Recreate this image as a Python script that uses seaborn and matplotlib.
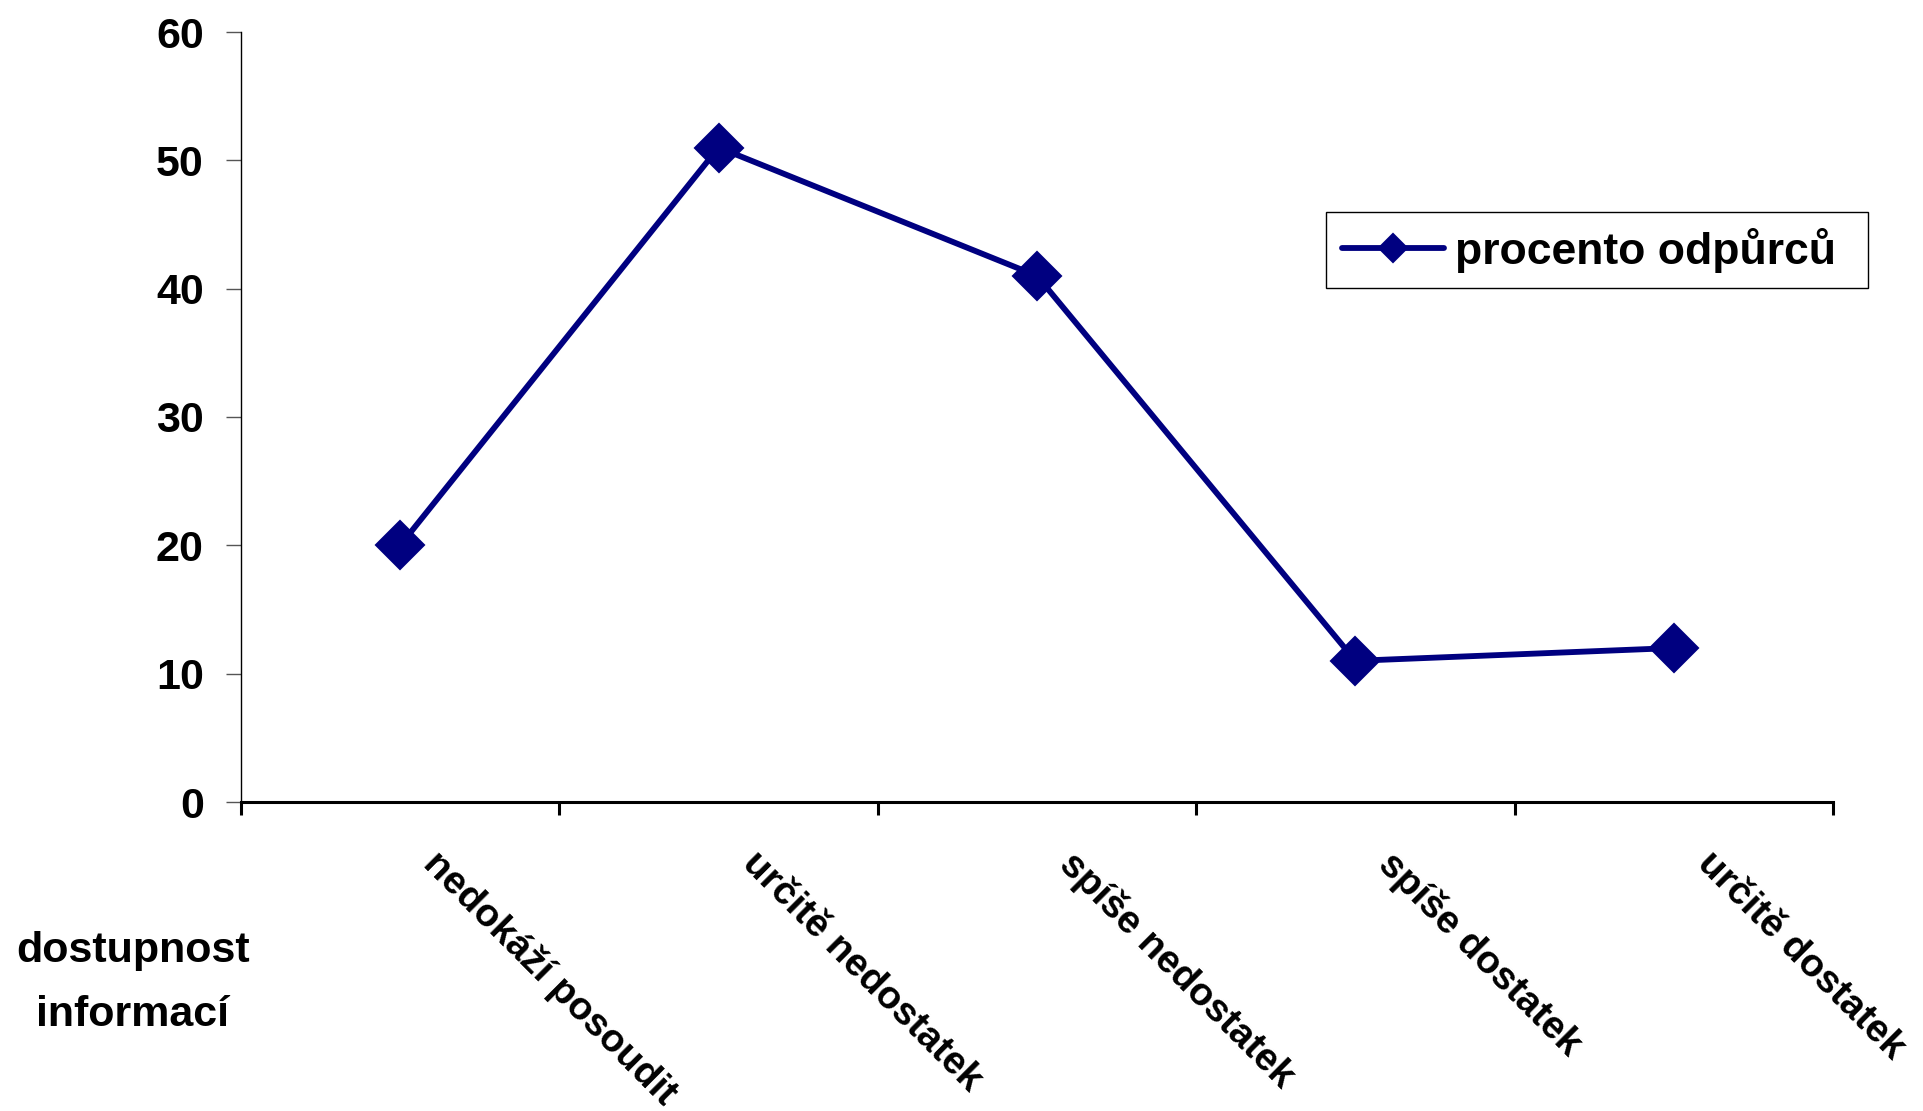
import matplotlib
matplotlib.use('Agg')
import matplotlib.pyplot as plt
import matplotlib.transforms as mtransforms
import seaborn as sns
import pandas as pd
import numpy as np

categories = ['nedokáží posoudit', 'určitě nedostatek', 'spíše nedostatek',
              'spíše dostatek', 'určitě dostatek']
values = [20, 51, 41, 11, 12]
series_name = 'procento odpůrců'
axis_title = 'dostupnost\ninformací'
y_ticks = [0, 10, 20, 30, 40, 50, 60]

sns.set_style('white')
plt.rcParams['font.family'] = ['Liberation Sans', 'DejaVu Sans']
plt.rcParams['font.weight'] = 'bold'
plt.rcParams['text.color'] = 'black'
plt.rcParams['axes.labelcolor'] = 'black'
plt.rcParams['xtick.color'] = 'black'
plt.rcParams['ytick.color'] = 'black'

W, H = 1924, 1111
fig = plt.figure(figsize=(W / 100, H / 100), dpi=100)
ax = fig.add_axes([241 / W, 1 - 802 / H, (1833 - 241) / W, (802 - 32) / H])

df = pd.DataFrame({'kategorie': categories, 'procento': values})
sns.lineplot(data=df, x='kategorie', y='procento', sort=False, color='#000080',
             linewidth=4.2, marker='D', markersize=24, markeredgecolor='#000080',
             markeredgewidth=1.5, label=series_name, ax=ax)

ax.set_xlim(-0.5, len(categories) - 0.5)
ax.set_ylim(0, 60)
ax.set_yticks(y_ticks)
ax.set_yticklabels([str(t) for t in y_ticks], fontsize=31, fontweight='bold')

ax.set_xticks(range(len(categories)))
ax.set_xticklabels(categories, rotation=-45, ha='left', va='top',
                   rotation_mode='anchor', fontsize=28, fontweight='bold')
ax.set_xticks(np.arange(-0.5, len(categories), 1), minor=True)
ax.tick_params(axis='x', which='major', length=0, pad=31)
ax.tick_params(axis='x', which='minor', direction='out', length=9.4, width=2.2,
               color='black', bottom=True)
ax.tick_params(axis='y', direction='out', length=10.8, width=1, pad=16,
               color='#555555', labelcolor='black', left=True)

offset = mtransforms.ScaledTranslation(0.42, 0, fig.dpi_scale_trans)
for lbl in ax.get_xticklabels():
    lbl.set_transform(lbl.get_transform() + offset)

for s in ['top', 'right']:
    ax.spines[s].set_visible(False)
ax.spines['left'].set_linewidth(1)
ax.spines['left'].set_color('black')
ax.spines['bottom'].set_linewidth(2.2)
ax.spines['bottom'].set_color('black')

ax.set_ylabel('')
ax.set_xlabel(axis_title, fontsize=31, fontweight='bold', linespacing=1.8)
ax.xaxis.label.set_va('center')
ax.xaxis.set_label_coords(-0.068, -0.235)

leg = ax.legend(loc='upper left',
                bbox_to_anchor=(1326 / W, 1 - 287 / H, (1868 - 1326) / W, 75 / H),
                bbox_transform=fig.transFigure, mode='expand', borderaxespad=0,
                frameon=True, fancybox=False, edgecolor='black', framealpha=1,
                prop={'weight': 'bold', 'size': 32}, handlelength=2.3,
                handletextpad=0.25, borderpad=0.35, markerscale=0.6)
leg.get_frame().set_linewidth(1)

fig.savefig('out.png', dpi=100, facecolor='white')
